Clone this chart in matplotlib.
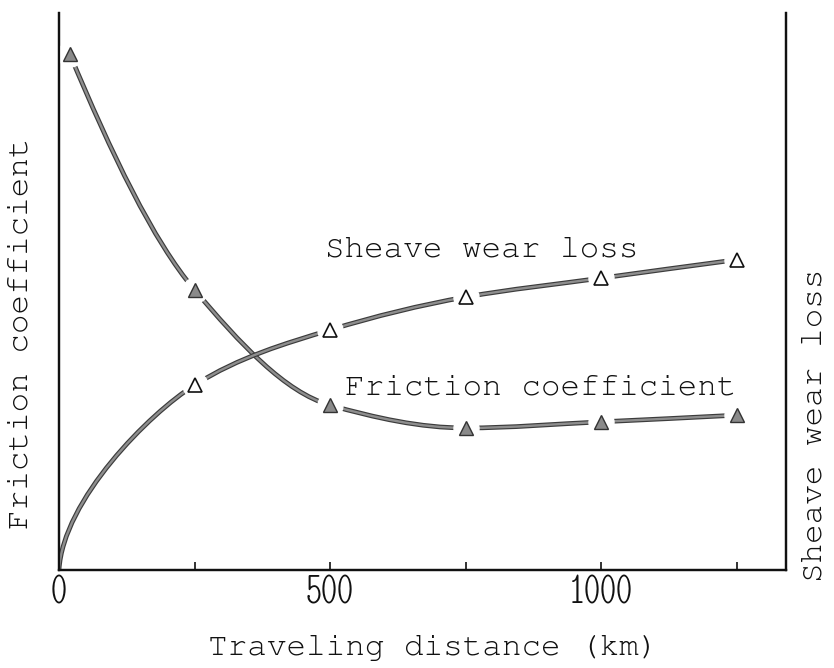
import matplotlib
matplotlib.use("Agg")
import numpy as np
import matplotlib.pyplot as plt
from matplotlib.path import Path
from matplotlib.patches import PathPatch
import matplotlib.patheffects as pe

# ---- data (arbitrary units) ----
friction_km = [20, 250, 500, 750, 1000, 1250]
friction_val = [0.926, 0.503, 0.296, 0.255, 0.266, 0.278]

wear_km = [0, 250, 500, 750, 1000, 1250]
wear_val = [0.0, 0.332, 0.431, 0.490, 0.524, 0.557]
wear_marker_from = 1  # first point (origin) has no marker

xticks = [0, 250, 500, 750, 1000, 1250]
xtick_labels = ["0", "", "500", "", "1000", ""]

MONO = ["FreeMono", "Courier Prime", "Liberation Mono", "DejaVu Sans Mono"]
NUM = ["Latin Modern Mono Light Cond", "PT Sans Narrow", "DejaVu Sans"]

W, H = 834, 668
fig = plt.figure(figsize=(W / 100, H / 100), dpi=100)
L, R, B, T = 59, 786, 570, 13
ax = fig.add_axes([L / W, 1 - B / H, (R - L) / W, (B - T) / H])
ax2 = ax.twinx()

for a in (ax, ax2):
    a.set_xlim(0, (R - L) / 0.542)
    a.set_ylim(0, 1)
    a.spines["top"].set_visible(False)
    for s in ("left", "right", "bottom"):
        a.spines[s].set_linewidth(1.6)
        a.spines[s].set_color("#111111")
    a.set_yticks([])

ax.set_xticks(xticks)
ax.set_xticklabels(xtick_labels, family=NUM, fontsize=33, color="#111111")
ax.tick_params(axis="x", direction="in", length=6, width=1.2, pad=4, color="#111111")


def pchip_slopes(xs, ys):
    h = np.diff(xs)
    s = np.diff(ys) / h
    n = len(xs)
    d = np.zeros(n)
    for i in range(1, n - 1):
        if s[i - 1] * s[i] <= 0:
            d[i] = 0.0
        else:
            w1 = 2 * h[i] + h[i - 1]
            w2 = h[i] + 2 * h[i - 1]
            d[i] = (w1 + w2) / (w1 / s[i - 1] + w2 / s[i])
    d[0] = ((2 * h[0] + h[1]) * s[0] - h[0] * s[1]) / (h[0] + h[1])
    d[-1] = ((2 * h[-1] + h[-2]) * s[-1] - h[-1] * s[-2]) / (h[-1] + h[-2])
    return d


def smooth_path(xs, ys, vertical_start=False):
    xs = np.asarray(xs, float)
    ys = np.asarray(ys, float)
    d = pchip_slopes(xs, ys)
    verts = [(xs[0], ys[0])]
    codes = [Path.MOVETO]
    for i in range(len(xs) - 1):
        dx = xs[i + 1] - xs[i]
        if i == 0 and vertical_start:
            c1 = (xs[0] + dx * 0.03, ys[0] + (ys[1] - ys[0]) * 0.38)
        else:
            c1 = (xs[i] + dx / 3, ys[i] + d[i] * dx / 3)
        c2 = (xs[i + 1] - dx / 3, ys[i + 1] - d[i + 1] * dx / 3)
        verts += [c1, c2, (xs[i + 1], ys[i + 1])]
        codes += [Path.CURVE4] * 3
    return Path(verts, codes)


line_fx = [pe.Stroke(linewidth=3.4, foreground="#3c3c3c"), pe.Normal()]


def draw_curve(a, xs, ys, **kw):
    p = PathPatch(smooth_path(xs, ys, **kw), fill=False, edgecolor="#8e8e8e",
                  lw=1.7, capstyle="butt", zorder=2)
    p.set_path_effects(line_fx)
    a.add_patch(p)


# friction coefficient curve (left axis)
draw_curve(ax, friction_km, friction_val)
ax.plot(friction_km, friction_val, "o", ms=18, color="white", zorder=3)
ax.plot(friction_km, friction_val, "^", ms=10, mfc="#8a8a8a", mec="#333333",
        mew=1.0, zorder=4, clip_on=False)

# sheave wear loss curve (right axis)
draw_curve(ax2, wear_km, wear_val, vertical_start=True)
ax2.plot(wear_km[wear_marker_from:], wear_val[wear_marker_from:], "o", ms=18,
         color="white", zorder=3)
ax2.plot(wear_km[wear_marker_from:], wear_val[wear_marker_from:], "^", ms=10,
         mfc="white", mec="#111111", mew=1.2, zorder=4)

# in-plot labels
ax.text(491, 0.575, "Sheave wear loss", family=MONO, fontsize=23.5,
        ha="left", va="center", color="#111111")
ax.text(528, 0.327, "Friction coefficient", family=MONO, fontsize=23.5,
        ha="left", va="center", color="#111111")

# axis labels
fig.text(21 / W, 1 - 333 / H, "Friction coefficient", family=MONO, fontsize=23.5,
         rotation=90, ha="center", va="center", color="#111111")
fig.text(814 / W, 1 - 425 / H, "Sheave wear loss", family=MONO, fontsize=23.5,
         rotation=90, ha="center", va="center", color="#111111")
fig.text(433 / W, 1 - 648 / H, "Traveling distance (km)", family=MONO, fontsize=23.5,
         ha="center", va="center", color="#111111")

fig.savefig("out.png", dpi=100)
